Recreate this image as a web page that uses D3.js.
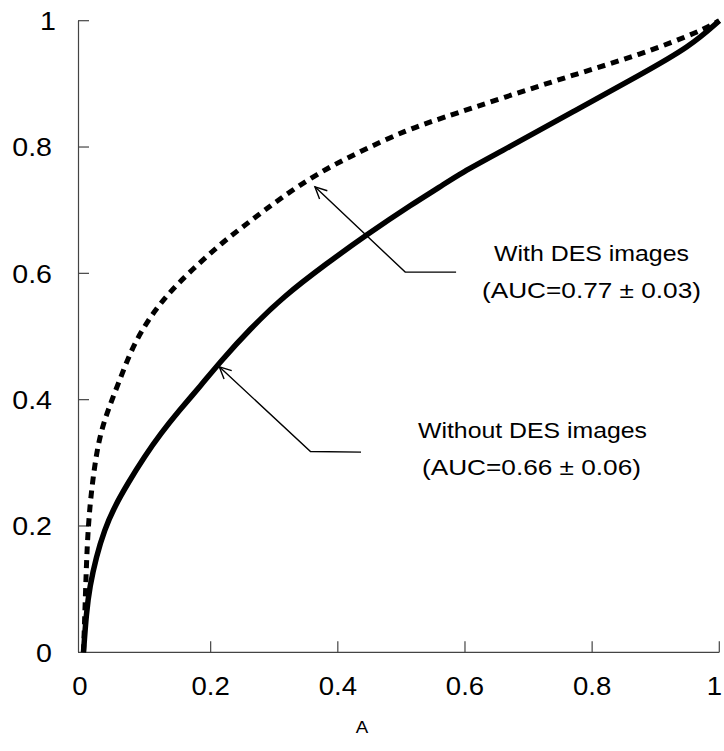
<!DOCTYPE html>
<html><head><meta charset="utf-8">
<script src="https://cdn.jsdelivr.net/npm/d3@7"></script>
<style>body{margin:0;background:#fff}svg{display:block}text{font-family:"Liberation Sans",Arial,sans-serif;fill:#000}</style>
</head><body><svg id="c" width="724" height="751"></svg>
<script>
// ---- data ----
const tickValues = [0, 0.2, 0.4, 0.6, 0.8, 1];
const tickLabels = ["0", "0.2", "0.4", "0.6", "0.8", "1"];
const withoutFPR = [0, 0.0044, 0.0098, 0.020, 0.033, 0.049, 0.070, 0.096, 0.122, 0.149, 0.185, 0.215, 0.262, 0.314, 0.383, 0.445, 0.519, 0.561, 0.592, 0.666, 0.770, 0.875, 0.954, 1];
const withoutTPR = [0, 0.062, 0.104, 0.151, 0.194, 0.231, 0.268, 0.310, 0.347, 0.381, 0.423, 0.460, 0.512, 0.563, 0.616, 0.661, 0.711, 0.737, 0.758, 0.798, 0.856, 0.914, 0.959, 1];
const withFPR = [0, 0.003, 0.0055, 0.0098, 0.0165, 0.025, 0.0385, 0.057, 0.075, 0.101, 0.133, 0.170, 0.217, 0.264, 0.306, 0.367, 0.435, 0.508, 0.561, 0.666, 0.770, 0.875, 0.970, 1];
const withTPR = [0, 0.088, 0.167, 0.231, 0.289, 0.341, 0.384, 0.431, 0.479, 0.526, 0.568, 0.605, 0.648, 0.684, 0.716, 0.758, 0.793, 0.827, 0.845, 0.880, 0.914, 0.946, 0.983, 1];
const seriesNames = ["With DES images", "Without DES images"];
const aucLabels = ["(AUC=0.77 \u00B1 0.03)", "(AUC=0.66 \u00B1 0.06)"];
const xAxisTitle = "A";

// ---- layout ----
const svg = d3.select("#c");
svg.append("rect").attr("width", 724).attr("height", 751).attr("fill", "#fff");
const x = d3.scaleLinear().domain([0, 1]).range([83.5, 719.3]);
const y = d3.scaleLinear().domain([0, 1]).range([652.3, 20.7]);
const axisX0 = 78;

const axisColor = "#444";
svg.append("line").attr("x1", axisX0 + 0.5).attr("x2", axisX0 + 0.5).attr("y1", y(1)).attr("y2", y(0))
  .attr("stroke", axisColor).attr("stroke-width", 1.2);
svg.append("line").attr("x1", axisX0).attr("x2", x(1)).attr("y1", y(0)).attr("y2", y(0))
  .attr("stroke", axisColor).attr("stroke-width", 1.2);

// y ticks (inward)
tickValues.forEach((v, i) => {
  if (v > 0) svg.append("line").attr("x1", axisX0).attr("x2", axisX0 + 11).attr("y1", y(v)).attr("y2", y(v))
    .attr("stroke", axisColor).attr("stroke-width", 1.2);
  const dx = v === 1 ? 4 : 0;
  svg.append("text").attr("transform", `translate(${52 + dx},${y(v) + 9.3}) scale(1.1,1)`)
    .attr("text-anchor", "end").attr("font-size", 26).text(tickLabels[i]);
});
// x ticks (inward, upward)
tickValues.forEach((v, i) => {
  if (v > 0) svg.append("line").attr("x1", x(v)).attr("x2", x(v)).attr("y1", y(0)).attr("y2", y(0) - 11)
    .attr("stroke", axisColor).attr("stroke-width", 1.2);
  const dx = v === 0 ? -3.5 : (v === 1 ? -5 : 0);
  svg.append("text").attr("transform", `translate(${x(v) + dx},695) scale(1.06,1)`)
    .attr("text-anchor", "middle").attr("font-size", 26).text(tickLabels[i]);
});
svg.append("text").attr("transform", "translate(362,733) scale(1.1,1)").attr("text-anchor", "middle").attr("font-size", 17).text(xAxisTitle);

// curves
const line = d3.line().x(d => x(d[0])).y(d => y(d[1])).curve(d3.curveBasis);
const withData = withFPR.map((f, i) => [f, withTPR[i]]);
const withoutData = withoutFPR.map((f, i) => [f, withoutTPR[i]]);
svg.append("path").datum(withoutData).attr("d", line).attr("fill", "none").attr("stroke", "#000")
  .attr("stroke-width", 5.5).attr("stroke-linejoin", "round");
svg.append("path").datum(withData).attr("d", line).attr("fill", "none").attr("stroke", "#000")
  .attr("stroke-width", 5).attr("stroke-dasharray", "8,6");

// arrows (in data coordinates)
const arrows = [
  [[0.586, 0.602], [0.506, 0.602], [0.364, 0.737]],
  [[0.4365, 0.317], [0.357, 0.318], [0.2136, 0.452]]
];
arrows.forEach(pts => {
  const p = pts.map(d => [x(d[0]), y(d[1])]);
  svg.append("path").attr("d", d3.line()(p)).attr("fill", "none").attr("stroke", "#000").attr("stroke-width", 1.4);
  const [a, b] = [p[p.length - 2], p[p.length - 1]];
  const ang = Math.atan2(b[1] - a[1], b[0] - a[0]);
  const L = 13, w = Math.PI / 7;
  const h1 = [b[0] - L * Math.cos(ang - w), b[1] - L * Math.sin(ang - w)];
  const h2 = [b[0] - L * Math.cos(ang + w), b[1] - L * Math.sin(ang + w)];
  svg.append("path").attr("d", d3.line()([h1, b, h2])).attr("fill", "none").attr("stroke", "#000").attr("stroke-width", 1.4);
});

// annotation labels
const labels = [
  {t: seriesNames[0], x: 494, y: 260.7, w: 195},
  {t: aucLabels[0], x: 482, y: 298, w: 219},
  {t: seriesNames[1], x: 418, y: 438.3, w: 229},
  {t: aucLabels[1], x: 422, y: 475, w: 219}
];
labels.forEach(l => {
  svg.append("text").attr("x", l.x).attr("y", l.y).attr("font-size", 22.5)
    .attr("textLength", l.w).attr("lengthAdjust", "spacingAndGlyphs").text(l.t);
});
</script></body></html>
